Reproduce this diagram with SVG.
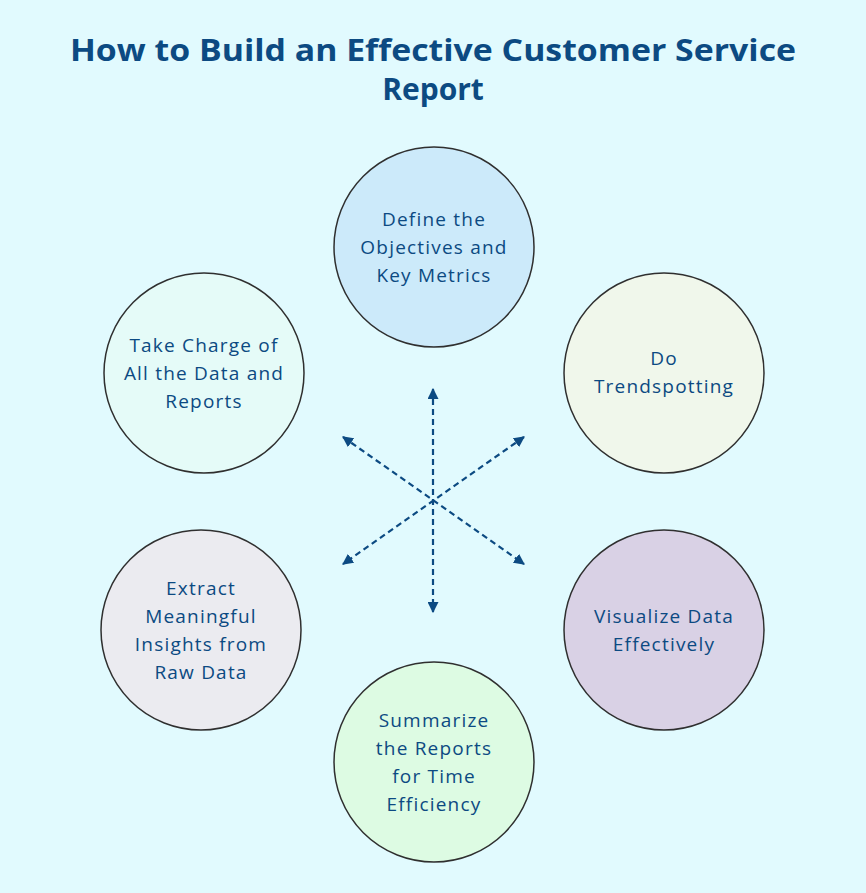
<svg xmlns="http://www.w3.org/2000/svg" width="866" height="893" viewBox="0 0 866 893">
<defs>
<style>
.bg{fill:#e1fafe}
.title{font-family:"Open Sans","Liberation Sans",sans-serif;font-weight:700;font-size:30px;fill:#0c4a82}
.c{stroke:#2f2f2f;stroke-width:1.5}
.t{font-family:"Open Sans","Liberation Sans",sans-serif;font-size:19px;letter-spacing:1.2px;fill:#0c4a82;text-anchor:middle}
.arr{stroke:#0c4a82;stroke-width:2.2;stroke-dasharray:6 4;fill:none;marker-start:url(#ah);marker-end:url(#ah)}
</style>
<marker id="ah" viewBox="0 0 10 10" refX="9" refY="5" markerWidth="5" markerHeight="5" orient="auto-start-reverse" markerUnits="strokeWidth">
<path d="M0,0 L10,5 L0,10 Z" fill="#0c4a82"/>
</marker>
</defs>
<rect class="bg" x="0" y="0" width="866" height="893"/>
<g id="title">
<text class="title" x="433" y="61" text-anchor="middle" textLength="726" lengthAdjust="spacingAndGlyphs">How to Build an Effective Customer Service</text>
<text class="title" x="433" y="100" text-anchor="middle">Report</text>
</g>
<g id="connectors">
<line class="arr" x1="433" y1="389" x2="433" y2="612"/>
<line class="arr" x1="343" y1="437" x2="524" y2="564"/>
<line class="arr" x1="524" y1="437" x2="343" y2="564"/>
</g>
<g id="node-define">
<circle class="c" cx="434" cy="247" r="100" fill="#cceafa"/>
<text class="t" x="434" y="226">Define the</text>
<text class="t" x="434" y="254">Objectives and</text>
<text class="t" x="434" y="282">Key Metrics</text>
</g>
<g id="node-trend">
<circle class="c" cx="664" cy="373" r="100" fill="#f0f7eb"/>
<text class="t" x="664" y="365">Do</text>
<text class="t" x="664" y="393">Trendspotting</text>
</g>
<g id="node-visualize">
<circle class="c" cx="664" cy="630" r="100" fill="#d9d1e5"/>
<text class="t" x="664" y="623">Visualize Data</text>
<text class="t" x="664" y="651">Effectively</text>
</g>
<g id="node-summarize">
<circle class="c" cx="434" cy="762" r="100" fill="#ddfbe3"/>
<text class="t" x="434" y="727">Summarize</text>
<text class="t" x="434" y="755">the Reports</text>
<text class="t" x="434" y="783">for Time</text>
<text class="t" x="434" y="811">Efficiency</text>
</g>
<g id="node-extract">
<circle class="c" cx="201" cy="630" r="100" fill="#ebebf0"/>
<text class="t" x="201" y="595">Extract</text>
<text class="t" x="201" y="623">Meaningful</text>
<text class="t" x="201" y="651">Insights from</text>
<text class="t" x="201" y="679">Raw Data</text>
</g>
<g id="node-charge">
<circle class="c" cx="204" cy="373" r="100" fill="#e5fbf8"/>
<text class="t" x="204" y="352">Take Charge of</text>
<text class="t" x="204" y="380">All the Data and</text>
<text class="t" x="204" y="408">Reports</text>
</g>
</svg>
